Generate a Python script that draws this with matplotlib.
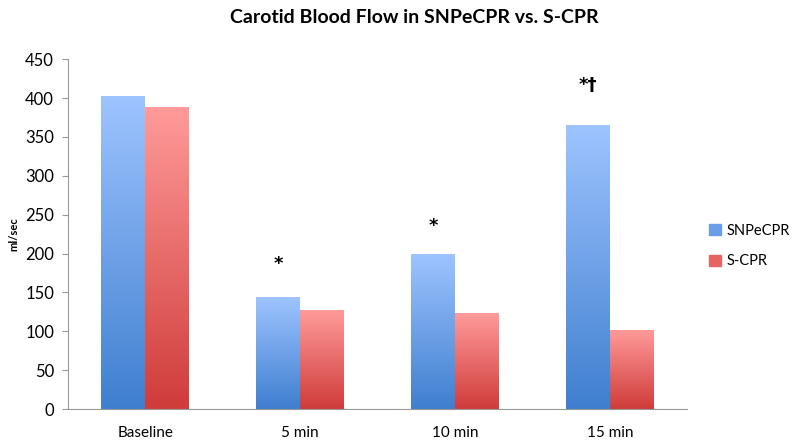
import matplotlib.pyplot as plt
import numpy as np
from matplotlib.colors import LinearSegmentedColormap

# Carotid blood flow data (ml/sec)
categories = ["Baseline", "5 min", "10 min", "15 min"]
snpecpr = [403, 144, 200, 365]
scpr = [389, 127, 123, 102]
# significance marks above the SNPeCPR bars, and the height they sit at
marks = ["", "*", "*", "*\u2020"]
marks_y = [0, 186, 236, 417]

plt.rcParams['font.family'] = ['Lato', 'DejaVu Sans']

blue_cmap = LinearSegmentedColormap.from_list("b", ["#3f7fcf", "#9ec4ff"])
red_cmap = LinearSegmentedColormap.from_list("r", ["#cf3c3a", "#ff9b9a"])


def gradientBars(ax, bars, cmap):
    # fill each bar with a vertical gradient, dark at the bottom
    grad = np.linspace(0, 1, 256).reshape(-1, 1)
    for b in bars:
        x0, y0 = b.get_x(), b.get_y()
        w, h = b.get_width(), b.get_height()
        im = ax.imshow(grad, cmap=cmap, origin="lower", aspect="auto",
                       extent=[x0, x0 + w, y0, y0 + h], zorder=2)
        im.set_clip_path(b)
        b.set_facecolor("none")


fig = plt.figure(figsize=(8, 4.48), dpi=100)
ax = fig.add_axes([0.085, 0.087, 0.774, 0.781])

x = np.arange(len(categories))
w = 0.284
b1 = ax.bar(x - w / 2, snpecpr, w, color=blue_cmap(0.5), edgecolor="none", label="SNPeCPR")
b2 = ax.bar(x + w / 2, scpr, w, color=red_cmap(0.5), edgecolor="none", label="S-CPR")
gradientBars(ax, b1, blue_cmap)
gradientBars(ax, b2, red_cmap)

for i, m in enumerate(marks):
    if m:
        ax.text(x[i] - w / 2, marks_y[i], m, ha="center", va="center",
                fontsize=13, fontweight="bold", fontfamily="DejaVu Sans")

ax.set_xlim(-0.5, 3.5)
ax.set_ylim(0, 450)
ax.set_yticks(range(0, 451, 50))
ax.set_xticks(x)
ax.set_xticklabels(categories)
ax.tick_params(axis="x", length=0, pad=12, labelsize=11)
ax.tick_params(axis="y", length=4, color="#999999", labelsize=12, pad=6)
for s in ["top", "right"]:
    ax.spines[s].set_visible(False)
ax.spines["left"].set_color("#999999")
ax.spines["bottom"].set_color("#999999")
ax.set_ylabel("ml/sec", fontsize=8, fontweight="bold", labelpad=4)

ax.set_title("Carotid Blood Flow in SNPeCPR vs. S-CPR", fontsize=14,
             fontweight="bold", pad=26, x=0.56)

h1 = plt.Rectangle((0, 0), 1, 1, color="#6a9ee8")
h2 = plt.Rectangle((0, 0), 1, 1, color="#e56565")
ax.legend([h1, h2], ["SNPeCPR", "S-CPR"], loc="center left",
          bbox_to_anchor=(1.035, 0.466), frameon=False, fontsize=10.5,
          borderpad=0, borderaxespad=0,
          handlelength=0.8, handleheight=0.8, labelspacing=1.15, handletextpad=0.4)

fig.savefig("out.png", dpi=100)
